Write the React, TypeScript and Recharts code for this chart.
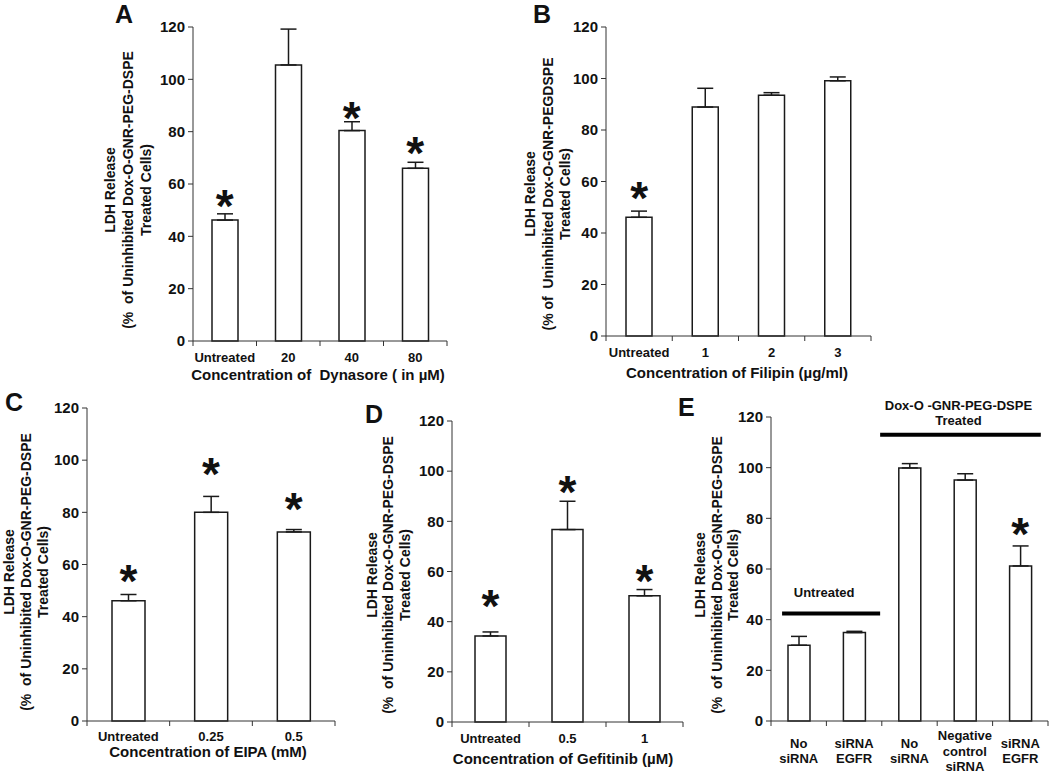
import React from "react";
import {
  Bar,
  ComposedChart,
  ErrorBar,
  ReferenceLine,
  Scatter,
  XAxis,
  YAxis,
} from "recharts";

const FONT = '"Liberation Sans", Arial, Helvetica, sans-serif';
const INK = "#111";
const AXIS = "#333";

// ---- data ----
const yTicks = [0, 20, 40, 60, 80, 100, 120];

const aCategories = [["Untreated"], ["20"], ["40"], ["80"]];
const aValues = [46.2, 105.5, 80.4, 66.0];
const aErrors = [2.4, 13.7, 3.4, 2.3];
const aStars = [54, null, 87.5, 74];

const bCategories = [["Untreated"], ["1"], ["2"], ["3"]];
const bValues = [46.1, 88.9, 93.5, 99.1];
const bErrors = [2.4, 7.3, 1.0, 1.5];
const bStars = [56, null, null, null];

const cCategories = [["Untreated"], ["0.25"], ["0.5"]];
const cValues = [46.1, 80.0, 72.5];
const cErrors = [2.4, 6.1, 0.9];
const cStars = [56, 96.9, 83.5];

const dCategories = [["Untreated"], ["0.5"], ["1"]];
const dValues = [34.3, 76.7, 50.3];
const dErrors = [1.6, 11.3, 2.5];
const dStars = [48.6, 94.1, 58.6];

const eCategories = [
  ["No", "siRNA"],
  ["siRNA", "EGFR"],
  ["No", "siRNA"],
  ["Negative", "control", "siRNA"],
  ["siRNA", "EGFR"],
];
const eValues = [29.9, 34.9, 99.9, 95.1, 61.2];
const eErrors = [3.5, 0.5, 1.7, 2.5, 7.9];
const eStars = [null, null, null, null, 76.1];
// group brackets: span in category units, height in % units
const eGroupLabels = [["Untreated"], ["Dox-O -GNR-PEG-DSPE", "Treated"]];
const eGroupSpans = [
  [0.2, 1.97],
  [1.97, 4.87],
];
const eGroupLevels = [42.4, 113];

const yLabelDefault = [
  "LDH Release",
  "(%  of Uninhibited Dox-O-GNR-PEG-DSPE",
  "Treated Cells)",
];
const yLabelB = [
  "LDH Release",
  "(% of  Uninhibited Dox-O-GNR-PEGDSPE",
  "Treated Cells)",
];

const PAD_L = 100;
const PAD_T = 20;
const PAD_R = 4;
const AX_H = 60;

type Group = { lines: string[]; from: number; to: number; y: number; dx: number; dys: number[] };

type PanelProps = {
  x0: number;
  x1: number;
  yT: number;
  yB: number;
  categories: string[][];
  values: number[];
  errors: number[];
  stars: (number | null)[];
  barSize: number;
  yLabel: string[];
  yLabelX: number[];
  yLabelY: number;
  xTitle?: string;
  xTitleX?: number;
  xTitleY?: number;
  tickY: number;
  groups?: Group[];
};

function Panel(p: PanelProps) {
  const L = p.x0 - PAD_L;
  const T = p.yT - PAD_T;
  const W = p.x1 - L + PAD_R;
  const H = PAD_T + (p.yB - p.yT) + AX_H;
  const n = p.categories.length;
  const band = (p.x1 - p.x0) / n;
  const axisY = PAD_T + (p.yB - p.yT);
  const data = p.categories.map((c, i) => ({
    key: String(i),
    value: p.values[i],
    err: [0, p.errors[i]],
    star: p.stars[i],
  }));

  // category label centred in band, tick marks on the band boundaries
  const renderTick = (t: any) => {
    const idx = Number(t.payload.value);
    const lines = p.categories[idx] || [];
    const cy = p.tickY - T;
    const lh = 15.5;
    const left = t.x - band / 2;
    const right = t.x + band / 2;
    return (
      <g>
        <line x1={left} x2={left} y1={axisY} y2={axisY + 5} stroke={AXIS} />
        {idx === n - 1 && <line x1={right} x2={right} y1={axisY} y2={axisY + 5} stroke={AXIS} />}
        <text textAnchor="middle" fontFamily={FONT} fontWeight={700} fontSize={13} fill={INK}>
          {lines.map((l, i) => (
            <tspan key={i} x={t.x} y={cy + (i - (lines.length - 1) / 2) * lh + 4.6}>
              {l}
            </tspan>
          ))}
        </text>
      </g>
    );
  };

  const renderYLabel = () => (
    <g>
      {p.yLabel.map((t, i) => {
        const x = p.yLabelX[i] - L;
        const y = p.yLabelY - T;
        return (
          <text
            key={i}
            transform={`rotate(-90 ${x} ${y})`}
            x={x}
            y={y + 5}
            textAnchor="middle"
            fontFamily={FONT}
            fontWeight={700}
            fontSize={14}
            fill={INK}
            style={{ whiteSpace: "pre" }}
          >
            {t}
          </text>
        );
      })}
    </g>
  );

  const renderXTitle = () =>
    p.xTitle ? (
      <text
        x={(p.xTitleX as number) - L}
        y={(p.xTitleY as number) - T + 5.3}
        textAnchor="middle"
        fontFamily={FONT}
        fontWeight={700}
        fontSize={15}
        fill={INK}
        style={{ whiteSpace: "pre" }}
      >
        {p.xTitle}
      </text>
    ) : null;

  const renderStar = (s: any) => {
    if (s.payload == null || s.payload.star == null || !Number.isFinite(s.cy)) return <g />;
    return (
      <text
        x={s.cx}
        y={s.cy + 22}
        textAnchor="middle"
        fontFamily={FONT}
        fontWeight={700}
        fontSize={46}
        fill={INK}
      >
        *
      </text>
    );
  };

  return (
    <div style={{ position: "absolute", left: L, top: T, width: W, height: H }}>
      <ComposedChart
        width={W}
        height={H}
        data={data}
        margin={{ top: PAD_T, right: PAD_R, bottom: 0, left: 0 }}
      >
        <XAxis
          dataKey="key"
          type="category"
          axisLine={{ stroke: AXIS }}
          tickLine={false}
          interval={0}
          height={AX_H}
          tick={renderTick}
          label={{ content: renderXTitle }}
        />
        <YAxis
          domain={[0, 120]}
          ticks={yTicks}
          interval={0}
          width={PAD_L}
          tickSize={5}
          tickMargin={3}
          stroke={AXIS}
          tick={{ fontFamily: FONT, fontWeight: 700, fontSize: 15, fill: INK }}
          label={{ content: renderYLabel }}
        />
        <Bar
          dataKey="value"
          barSize={p.barSize}
          fill="#fff"
          stroke="#1a1a1a"
          strokeWidth={1.5}
          isAnimationActive={false}
        >
          <ErrorBar
            dataKey="err"
            direction="y"
            width={8}
            stroke="#1a1a1a"
            strokeWidth={1.5}
            isAnimationActive={false}
          />
        </Bar>
        <Scatter dataKey="star" shape={renderStar} isAnimationActive={false} />
        {(p.groups || []).map((g, gi) => (
          <ReferenceLine
            key={gi}
            y={g.y}
            stroke="none"
            label={{
              content: (lp: any) => {
                const vb = lp.viewBox || {};
                const vx = vb.x || 0;
                const vw = vb.width || 0;
                const vy = vb.y || 0;
                const ax = vx + (g.from * vw) / n;
                const bx = vx + (g.to * vw) / n;
                const cx = (ax + bx) / 2 + g.dx;
                return (
                  <g>
                    <line x1={ax} x2={bx} y1={vy} y2={vy} stroke="#000" strokeWidth={4} />
                    <text textAnchor="middle" fontFamily={FONT} fontWeight={700} fontSize={13} fill={INK}>
                      {g.lines.map((l, i) => (
                        <tspan key={i} x={cx} y={vy + g.dys[i] + 4.6}>
                          {l}
                        </tspan>
                      ))}
                    </text>
                  </g>
                );
              },
            }}
          />
        ))}
      </ComposedChart>
    </div>
  );
}

const Letter = ({ ch, x, y }: { ch: string; x: number; y: number }) => (
  <div
    style={{
      position: "absolute",
      left: x,
      top: y,
      fontFamily: FONT,
      fontWeight: 700,
      fontSize: 25,
      lineHeight: "25px",
      color: INK,
    }}
  >
    {ch}
  </div>
);

export default function App() {
  const eGroups: Group[] = eGroupLabels.map((lines, i) => ({
    lines,
    from: eGroupSpans[i][0],
    to: eGroupSpans[i][1],
    y: eGroupLevels[i],
    dx: i === 0 ? -7 : -2,
    dys: i === 0 ? [-21] : [-29, -14],
  }));

  return (
    <div
      style={{
        position: "absolute",
        left: 0,
        top: 0,
        width: 1050,
        height: 774,
        overflow: "hidden",
        background: "#fff",
      }}
    >
      <Panel
        x0={193} x1={447} yT={27} yB={341}
        categories={aCategories} values={aValues} errors={aErrors} stars={aStars}
        barSize={26}
        yLabel={yLabelDefault} yLabelX={[110, 128, 146]} yLabelY={190}
        xTitle="Concentration of  Dynasore ( in µM)" xTitleX={318} xTitleY={375}
        tickY={357}
      />
      <Panel
        x0={606} x1={871} yT={27} yB={336}
        categories={bCategories} values={bValues} errors={bErrors} stars={bStars}
        barSize={26}
        yLabel={yLabelB} yLabelX={[530, 548, 565]} yLabelY={194}
        xTitle="Concentration of Filipin (µg/ml)" xTitleX={737} xTitleY={373}
        tickY={352}
      />
      <Panel
        x0={87} x1={335} yT={408} yB={721}
        categories={cCategories} values={cValues} errors={cErrors} stars={cStars}
        barSize={33}
        yLabel={yLabelDefault} yLabelX={[9, 26, 43]} yLabelY={572}
        xTitle="Concentration of EIPA (mM)" xTitleX={208} xTitleY={752}
        tickY={736}
      />
      <Panel
        x0={452} x1={683} yT={421} yB={722}
        categories={dCategories} values={dValues} errors={dErrors} stars={dStars}
        barSize={31}
        yLabel={yLabelDefault} yLabelX={[372, 388, 405]} yLabelY={575}
        xTitle="Concentration of Gefitinib (µM)" xTitleX={563} xTitleY={759}
        tickY={738}
      />
      <Panel
        x0={771} x1={1048} yT={417} yB={721}
        categories={eCategories} values={eValues} errors={eErrors} stars={eStars}
        barSize={22}
        yLabel={yLabelDefault} yLabelX={[700, 717, 733]} yLabelY={575}
        tickY={751}
        groups={eGroups}
      />
      <Letter ch="A" x={115} y={2} />
      <Letter ch="B" x={533} y={2} />
      <Letter ch="C" x={5} y={390} />
      <Letter ch="D" x={365} y={402} />
      <Letter ch="E" x={678} y={395} />
    </div>
  );
}
